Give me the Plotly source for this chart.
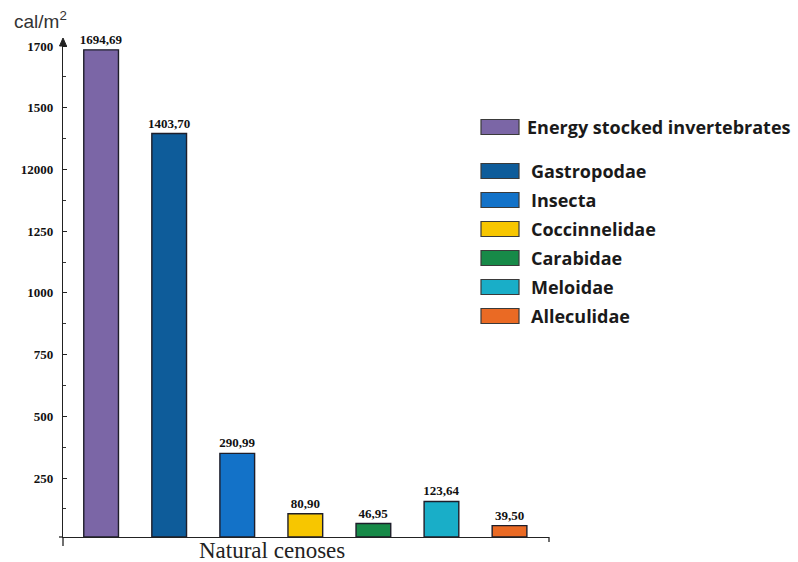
import plotly.graph_objects as go

# ---- data -------------------------------------------------------------
groups = ["Energy stocked invertebrates", "Gastropodae", "Insecta",
          "Coccinnelidae", "Carabidae", "Meloidae", "Alleculidae"]
energy = [1694.69, 1403.70, 290.99, 80.90, 46.95, 123.64, 39.50]
bar_colors = ["#7B66A6", "#0E5C9A", "#1372C8", "#F7C600",
              "#178A48", "#19AEC8", "#EA6A24"]
axis_labels = ["1700", "1500", "12000", "1250", "1000", "750", "500", "250"]

# ---- layout geometry (pixels) ------------------------------------------
W, H = 798, 562
L, R, T, B = 63, 249, 40, 25
PW, PH = W - L - R, H - T - B
Y_MAX = 1729
TICK_TOP, TICK_STEP = 1708, 214.7


def px_x(px):
    return (px - L) / PW


def px_y(py):
    return (H - B - py) / PH


fig = go.Figure()

fig.add_trace(go.Bar(
    x=list(range(len(groups))),
    y=energy,
    width=0.51,
    marker=dict(color=bar_colors, line=dict(color="#1e1e2a", width=1.4)),
    text=[f"{v:.2f}".replace(".", ",") for v in energy],
    textposition="outside",
    constraintext="none",
    textfont=dict(family="Liberation Serif", size=13, color="#111",
                  weight="bold"),
    cliponaxis=False,
    showlegend=False,
))

major = [TICK_TOP - i * TICK_STEP for i in range(len(axis_labels))]
minor = [v + TICK_STEP / 2 for v in major] + [major[-1] - TICK_STEP / 2]

fig.update_yaxes(
    range=[0, Y_MAX], showgrid=False, zeroline=False,
    showline=True, linecolor="#222", linewidth=1.3,
    tickmode="array", tickvals=major, ticktext=axis_labels,
    ticks="inside", ticklen=4, tickcolor="#222", ticklabelstandoff=6,
    tickfont=dict(family="Liberation Serif", size=13, color="#111",
                  weight="bold"),
    minor=dict(tickvals=minor, ticks="inside", ticklen=3,
               tickcolor="#333"),
)
fig.update_xaxes(
    range=[-0.56, 6.58], showgrid=False, zeroline=False,
    showline=True, linecolor="#222", linewidth=1.3,
    showticklabels=False, ticks="",
)

shapes = [
    # axis stubs past the origin and at the right end
    dict(type="line", xref="paper", yref="paper",
         x0=0, x1=0, y0=0, y1=px_y(546),
         line=dict(color="#222", width=1.3)),
    dict(type="line", xref="paper", yref="paper",
         x0=px_x(59), x1=0, y0=0, y1=0,
         line=dict(color="#222", width=1.3)),
    dict(type="line", xref="paper", yref="paper",
         x0=1, x1=1, y0=0, y1=px_y(542),
         line=dict(color="#222", width=1.3)),
    # arrowhead on top of the value axis
    dict(type="path", xref="paper", yref="paper",
         path=(f"M {px_x(L - 3.5)} {px_y(T + 6)} L {px_x(L)} {px_y(T - 2)} "
               f"L {px_x(L + 3.5)} {px_y(T + 6)} Z"),
         fillcolor="#222", line=dict(color="#222", width=1)),
]

annotations = [
    dict(x=px_x(12), y=px_y(20), xref="paper", yref="paper",
         xanchor="left", yanchor="middle", showarrow=False,
         text="cal/m<sup>2</sup>",
         font=dict(family="Liberation Sans", size=19, color="#333")),
    dict(x=px_x(272), y=px_y(550), xref="paper", yref="paper",
         xanchor="center", yanchor="middle", showarrow=False,
         text="Natural cenoses",
         font=dict(family="Liberation Serif", size=23, color="#222")),
]

# ---- legend drawn as swatches and labels -------------------------------
ROW0, ROW_STEP, FIRST_GAP = 127, 29, 15
for i, (name, col) in enumerate(zip(groups, bar_colors)):
    cy = ROW0 + i * ROW_STEP + (FIRST_GAP if i > 0 else 0)
    shapes.append(dict(
        type="rect", xref="paper", yref="paper",
        x0=px_x(481), x1=px_x(519), y0=px_y(cy + 7.5), y1=px_y(cy - 7.5),
        fillcolor=col, line=dict(color="#3a3a3a", width=1.2)))
    annotations.append(dict(
        x=px_x(525 if i == 0 else 529), y=px_y(cy), xref="paper",
        yref="paper", xanchor="left", yanchor="middle", showarrow=False,
        text=name,
        font=dict(family="Open Sans", size=18, color="#1a1a1a",
                  weight="bold")))

fig.update_layout(
    width=W, height=H,
    margin=dict(l=L, r=R, t=T, b=B),
    paper_bgcolor="white", plot_bgcolor="white",
    bargap=0.3,
    shapes=shapes, annotations=annotations,
)

fig.write_html("out.html")
